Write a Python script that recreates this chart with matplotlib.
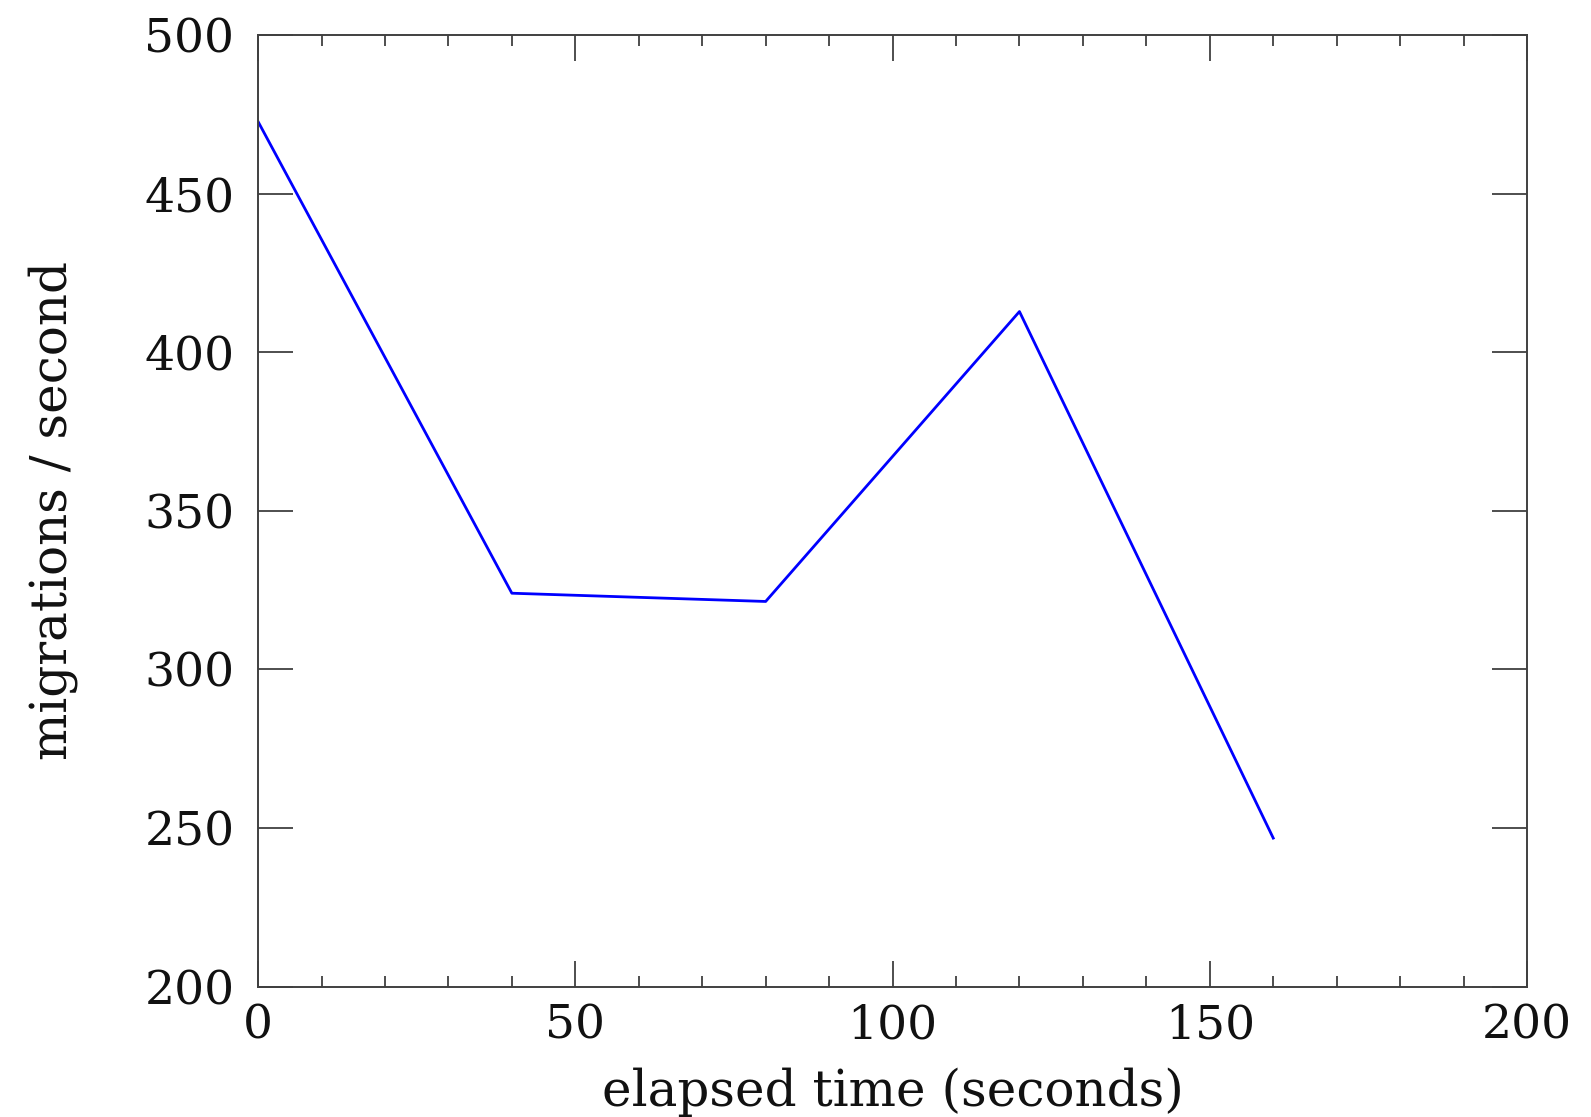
import numpy as np
from matplotlib import pyplot as plt
from matplotlib.ticker import MultipleLocator

# migrations per second over elapsed time
elapsed = [0, 40, 80, 120, 160]
migrations = [472.7, 324.0, 321.4, 412.8, 246.8]

x_ticks = [0, 50, 100, 150, 200]
y_ticks = [200, 250, 300, 350, 400, 450, 500]


def main():
    plt.rcParams['font.family'] = ['DejaVu Serif']
    fig = plt.figure(figsize=(15.91, 11.17), dpi=100)
    ax = fig.add_axes([0.1622, 0.1168, 0.7976, 0.8519])

    ax.plot(elapsed, migrations, color='#0000ff', linewidth=2.0)

    ax.set_xlim(0, 200)
    ax.set_ylim(200, 500)
    ax.set_xticks(x_ticks)
    ax.set_yticks(y_ticks)
    ax.xaxis.set_minor_locator(MultipleLocator(10))

    for side in ax.spines.values():
        side.set_color('#404040')
        side.set_linewidth(1.4)

    ax.tick_params(axis='both', which='both', direction='in', top=True, right=True,
                   color='#404040', width=1.3, labelsize=34, labelcolor='#111111')
    ax.tick_params(axis='x', which='major', length=19, pad=12)
    ax.tick_params(axis='x', which='minor', length=8)
    ax.tick_params(axis='y', which='major', length=25, pad=17)

    ax.set_xlabel('elapsed time (seconds)', fontsize=36, labelpad=14, color='#111111')
    ax.set_ylabel('migrations / second', fontsize=36, color='#111111')
    ax.yaxis.set_label_coords(-0.142, 0.5)

    fig.savefig('out.png', dpi=100)


if __name__ == '__main__':
    main()
